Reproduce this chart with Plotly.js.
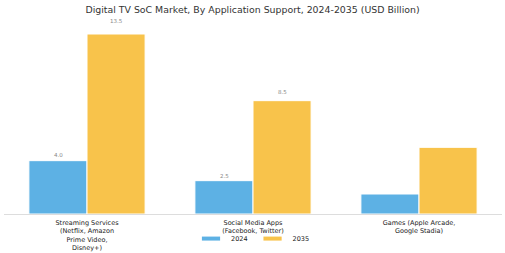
<!DOCTYPE html>
<html><head><meta charset="utf-8">
<script src="https://cdn.plot.ly/plotly-3.0.1.min.js"></script>
<style>html,body{margin:0;padding:0;background:#fff}#c{width:505px;height:253px}</style>
</head><body><div id="c"></div>
<script>
const categories = ["Streaming Services<br>(Netflix, Amazon<br>Prime Video,<br>Disney+)", "Social Media Apps<br>(Facebook, Twitter)", "Games (Apple Arcade,<br>Google Stadia)"];
const seriesNames = ["2024", "2035"];
const values2024 = [4.0, 2.5, 1.5];
const values2035 = [13.5, 8.5, 5.0];
const labels2024 = ["4.0", "2.5", ""];
const labels2035 = ["13.5", "8.5", ""];
const colors = ["#5DB1E4", "#F8C34B"];

const font = "DejaVu Sans, sans-serif";
const traces = [
  {type:"bar", name:seriesNames[0], x:categories, y:values2024, showlegend:false,
   marker:{color:colors[0], line:{color:"#ffffff", width:1}}},
  {type:"bar", name:seriesNames[1], x:categories, y:values2035, showlegend:false,
   marker:{color:colors[1], line:{color:"#ffffff", width:1}}},
  // legend proxies (wide, short swatches)
  {type:"scatter", mode:"markers", name:seriesNames[0], x:[null], y:[null], showlegend:true,
   marker:{symbol:"line-ew-open", size:13, color:colors[0], line:{color:colors[0], width:4}}},
  {type:"scatter", mode:"markers", name:seriesNames[1], x:[null], y:[null], showlegend:true,
   marker:{symbol:"line-ew-open", size:13, color:colors[1], line:{color:colors[1], width:4}}}
];
const annotations = [];
function addLabels(vals, labs, shift) {
  vals.forEach((v, i) => {
    if (!labs[i]) return;
    annotations.push({x: categories[i], y: v * 1.055 + 0.2, xref:"x", yref:"y", text: labs[i],
      showarrow:false, xshift: shift, yanchor:"middle", font:{size:5.5, color:"#888", family:font}});
  });
}
addLabels(values2024, labels2024, -29);
addLabels(values2035, labels2035, 29);

const layout = {
  width:505, height:253,
  margin:{l:4, r:3, t:14, b:39},
  paper_bgcolor:"#fff", plot_bgcolor:"#fff",
  font:{family:font, color:"#222"},
  title:{text:"Digital TV SoC Market, By Application Support, 2024-2035 (USD Billion)", font:{size:9.4, color:"#333"}, x:0.5, xanchor:"center", y:0.96, yanchor:"middle"},
  barmode:"group", bargap:0.3, bargroupgap:0,
  xaxis:{type:"category", showline:true, linecolor:"#ddd", linewidth:1, ticks:"", ticklabelstandoff:2, tickfont:{size:6.5, color:"#222"}, showgrid:false, automargin:false},
  yaxis:{visible:false, range:[0, 15], showgrid:false, zeroline:false, automargin:false},
  annotations: annotations,
  showlegend:true,
  legend:{orientation:"h", x:0.5, xanchor:"center", yref:"container", y:0.057, yanchor:"middle", bgcolor:"rgba(0,0,0,0)", font:{size:6.5, color:"#222"}, itemwidth:30, traceorder:"normal"}
};
Plotly.newPlot("c", traces, layout, {displayModeBar:false, staticPlot:true});
</script></body></html>
